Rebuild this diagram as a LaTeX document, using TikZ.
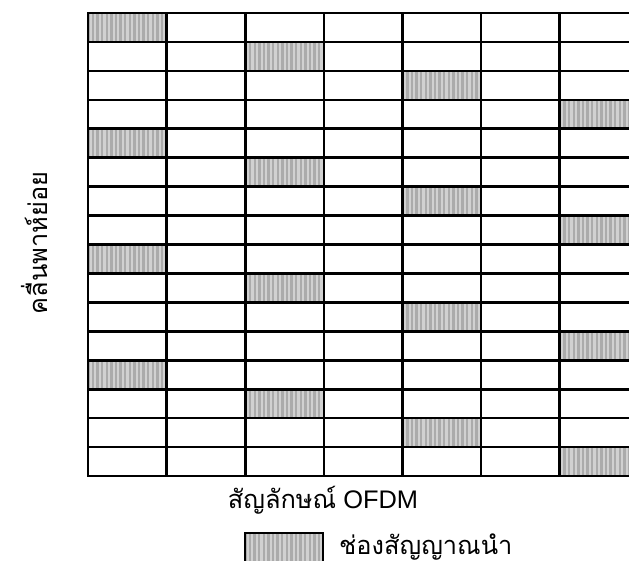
\documentclass[tikz,border=0pt]{standalone}
\usepackage{fontspec}
\setmainfont{Liberation Sans}
\newfontfamily\thaifont[Script=Thai]{Loma}
\begin{document}
\begin{tikzpicture}[x=1bp,y=-1bp,
  gridline/.style={line width=2.6bp,black,line cap=rect},
  pilotbase/.style={fill=black!33},
  pilotstripe/.style={fill=black!18},
  labeltext/.style={font=\fontsize{25.5}{30}\selectfont, inner sep=0pt}]
\useasboundingbox (0,0) rectangle (629,561);
\clip (0,0) rectangle (629,561);
\def\cw{78.6}
\def\rh{28.94}
% pilot cells
\foreach \c in {0,1,2,3}{
  \foreach \k in {0,1,2,3}{
    \pgfmathsetmacro\xx{88+2*\c*\cw}
    \pgfmathsetmacro\yy{13+(\c+4*\k)*\rh}
    \fill[pilotbase] (\xx,\yy) rectangle ++(\cw,\rh);
    \foreach \s in {1.5,6.1,...,76}{
      \fill[pilotstripe] (\xx+\s,\yy) rectangle ++(2.2,\rh);
    }
  }
}
% grid
\foreach \i in {0,...,16}{
  \draw[gridline] (88,13+\i*\rh) -- (645,13+\i*\rh);
}
\foreach \j in {0,...,7}{
  \draw[gridline] (88+\j*\cw,13) -- (88+\j*\cw,476);
}
% legend
\fill[pilotbase] (245,533) rectangle (323,565);
\foreach \s in {1.5,6.1,...,76}{
  \fill[pilotstripe] (245+\s,533) rectangle ++(2.2,32);
}
\draw[line width=2.2bp] (245,533) rectangle (323,565);
\node[labeltext, anchor=base west] (legendtext) at (339,554) {\thaifont ช่องสัญญาณนำ};
% axis labels
\node[labeltext, anchor=base] (xlabel) at (323,508) {{\thaifont สัญลักษณ์} OFDM};
\node[labeltext, rotate=90, anchor=base] (ylabel) at (47,243) {\thaifont คลื่นพาห์ย่อย};
\end{tikzpicture}
\end{document}
